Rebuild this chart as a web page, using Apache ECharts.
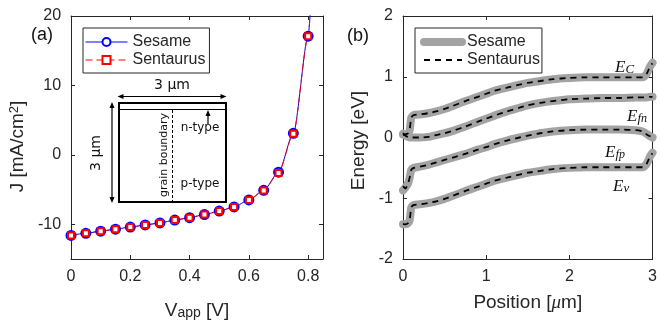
<!DOCTYPE html>
<html>
<head>
<meta charset="utf-8">
<title>Sesame vs Sentaurus</title>
<script src="https://cdn.jsdelivr.net/npm/echarts@6.0.0/dist/echarts.min.js"></script>
<style>
  html, body { margin: 0; padding: 0; background: #fff; }
  .fila { display: flex; width: 660px; height: 325px; }
  .panel { width: 330px; height: 325px; }
</style>
</head>
<body>
<div class="fila">
  <div id="panelA" class="panel"></div>
  <div id="panelB" class="panel"></div>
</div>
<script>
// ---- (a) curva J-V ----
const vApp = [0, 0.05, 0.1, 0.15, 0.2, 0.25, 0.3, 0.35, 0.4, 0.45, 0.5, 0.55, 0.6, 0.65, 0.7, 0.75, 0.8, 0.81];
const jSesame = [-11.6, -11.3, -11.0, -10.7, -10.4, -10.1, -9.8, -9.4, -9.05, -8.6, -8.1, -7.5, -6.5, -5.1, -2.5, 3.1, 17.1, 22.6];
const jSentaurus = [-11.6, -11.3, -11.0, -10.7, -10.4, -10.1, -9.8, -9.4, -9.05, -8.6, -8.1, -7.5, -6.5, -5.15, -2.6, 3.05, 17.1, 22.6];
const ticksV = [0, 0.2, 0.4, 0.6, 0.8];
const ticksJ = [-10, 0, 10, 20];

// ---- (b) diagrama de bandas ----
const posicion = [0, 0.03, 0.06, 0.08, 0.1, 0.13, 0.2, 0.3, 0.4, 0.5, 0.6, 0.75, 0.9, 1.0, 1.1, 1.25, 1.4, 1.5, 1.65, 1.8, 2.0, 2.2, 2.4, 2.6, 2.8, 2.88, 2.93, 2.97, 3.0];
const ecSesame = [0.05, 0.05, 0.07, 0.12, 0.33, 0.37, 0.38, 0.40, 0.43, 0.47, 0.52, 0.60, 0.67, 0.72, 0.77, 0.82, 0.87, 0.90, 0.93, 0.96, 0.98, 0.99, 0.99, 0.99, 0.99, 0.99, 1.05, 1.17, 1.23];
const efnSesame = [0.06, 0.03, 0.01, 0.0, 0.0, 0.0, 0.0, 0.01, 0.04, 0.07, 0.11, 0.18, 0.26, 0.31, 0.36, 0.43, 0.49, 0.53, 0.57, 0.60, 0.63, 0.64, 0.65, 0.65, 0.66, 0.66, 0.66, 0.67, 0.67];
const efpSesame = [-0.87, -0.82, -0.76, -0.66, -0.53, -0.50, -0.48, -0.45, -0.41, -0.37, -0.33, -0.27, -0.20, -0.16, -0.11, -0.05, 0.0, 0.03, 0.07, 0.10, 0.12, 0.13, 0.13, 0.13, 0.12, 0.10, 0.06, 0.02, 0.0];
const evSesame = [-1.43, -1.43, -1.41, -1.36, -1.15, -1.11, -1.10, -1.08, -1.05, -1.01, -0.96, -0.88, -0.81, -0.76, -0.71, -0.66, -0.61, -0.58, -0.55, -0.52, -0.50, -0.49, -0.49, -0.49, -0.49, -0.49, -0.43, -0.31, -0.25];
const ecSentaurus = [0.04, 0.05, 0.07, 0.13, 0.33, 0.37, 0.38, 0.40, 0.43, 0.47, 0.52, 0.60, 0.67, 0.72, 0.77, 0.82, 0.87, 0.90, 0.93, 0.96, 0.98, 0.99, 0.99, 0.99, 0.99, 0.99, 1.05, 1.17, 1.22];
const efnSentaurus = [0.07, 0.03, 0.01, 0.0, 0.0, 0.0, 0.0, 0.01, 0.04, 0.07, 0.11, 0.18, 0.26, 0.31, 0.36, 0.43, 0.49, 0.53, 0.57, 0.60, 0.63, 0.64, 0.65, 0.65, 0.66, 0.66, 0.66, 0.67, 0.67];
const efpSentaurus = [-0.80, -0.84, -0.76, -0.66, -0.53, -0.50, -0.48, -0.45, -0.41, -0.37, -0.33, -0.27, -0.20, -0.16, -0.11, -0.05, 0.0, 0.03, 0.07, 0.10, 0.12, 0.13, 0.13, 0.13, 0.12, 0.10, 0.05, 0.02, 0.0];
const evSentaurus = [-1.42, -1.43, -1.41, -1.36, -1.15, -1.11, -1.10, -1.08, -1.05, -1.01, -0.96, -0.88, -0.81, -0.76, -0.71, -0.66, -0.61, -0.58, -0.55, -0.52, -0.50, -0.49, -0.49, -0.49, -0.49, -0.49, -0.43, -0.31, -0.26];

const negro = '#262626';
const fuente = 'Liberation Sans';

// eje estilo MATLAB: caja completa, ticks hacia dentro
const ejeValor = (cfg) => ({
    type: 'value',
    min: cfg.min,
    max: cfg.max,
    interval: cfg.interval,
    position: cfg.position,
    axisLine: { show: true, onZero: false, lineStyle: { color: negro, width: 1 } },
    axisTick: { show: true, inside: true, length: 4, lineStyle: { color: negro }, customValues: cfg.ticks },
    axisLabel: { show: !!cfg.labels, color: negro, fontSize: 16, fontFamily: fuente, margin: 10, customValues: cfg.ticks },
    splitLine: { show: false },
    name: cfg.name,
    nameLocation: 'middle',
    nameGap: cfg.nameGap,
    nameRotate: cfg.nameRotate,
    nameTextStyle: cfg.nameTextStyle
});

const leyenda = (left, extra) => Object.assign({
    data: ['Sesame', 'Sentaurus'],
    orient: 'vertical',
    left: left,
    top: 28,
    itemHeight: 10,
    itemGap: 2,
    borderColor: negro,
    borderWidth: 1,
    borderRadius: 0,
    selectedMode: false,
    lineStyle: { width: 'inherit' },
    textStyle: { fontSize: 16, fontFamily: fuente, color: negro }
}, extra);

const punta = (x, y, dir) => {
    const p = {
        left: [[x, y], [x + 6, y - 2.5], [x + 6, y + 2.5]],
        right: [[x, y], [x - 6, y - 2.5], [x - 6, y + 2.5]],
        up: [[x, y], [x - 2.5, y + 6], [x + 2.5, y + 6]],
        down: [[x, y], [x - 2.5, y - 6], [x + 2.5, y - 6]]
    }[dir];
    return { type: 'polygon', shape: { points: p }, style: { fill: '#000' } };
};

const linea = (x1, y1, x2, y2, extra) => ({
    type: 'line',
    shape: { x1, y1, x2, y2 },
    style: Object.assign({ stroke: '#000', lineWidth: 1.2 }, extra)
});

const texto = (x, y, txt, size, rot) => ({
    type: 'text',
    x: x,
    y: y,
    rotation: rot || 0,
    style: { text: txt, fontSize: size, fontFamily: 'DejaVu Sans', fill: '#111', align: 'center', verticalAlign: 'middle' }
});

// ---------- panel (a) ----------
const graficoA = echarts.init(document.getElementById('panelA'));

const puntosJ = (arr) => vApp.map((v, i) => arr[i] > 20 ? { value: [v, arr[i]], symbol: 'none' } : [v, arr[i]]);

graficoA.setOption({
    animation: false,
    grid: { left: 70, right: 7, top: 16, bottom: 66 },
    legend: leyenda(83, { padding: [6, 4, 5, 2], itemWidth: 42 }),
    xAxis: [
        ejeValor({
            min: 0, max: 0.85, ticks: ticksV, labels: true, position: 'bottom',
            name: '{v|V}{s|app}{v| [V]}', nameGap: 25,
            nameTextStyle: {
                rich: {
                    v: { fontSize: 19, fontFamily: fuente, color: negro, lineHeight: 36, verticalAlign: 'bottom' },
                    s: { fontSize: 14, fontFamily: fuente, color: negro, lineHeight: 16, verticalAlign: 'bottom' }
                }
            }
        }),
        ejeValor({ min: 0, max: 0.85, ticks: ticksV, labels: false, position: 'top' })
    ],
    yAxis: [
        ejeValor({
            min: -15, max: 20, ticks: ticksJ, labels: true, position: 'left',
            name: '{t|J [mA/cm}{p|2}{t|]}', nameGap: 26, nameRotate: 90,
            nameTextStyle: {
                padding: [0, 18, 0, 0],
                rich: {
                    t: { fontSize: 19, fontFamily: fuente, color: negro, lineHeight: 24, verticalAlign: 'top' },
                    p: { fontSize: 13, fontFamily: fuente, color: negro, lineHeight: 14, verticalAlign: 'top' }
                }
            }
        }),
        ejeValor({ min: -15, max: 20, ticks: ticksJ, labels: false, position: 'right' })
    ],
    series: [
        {
            name: 'Sesame',
            type: 'line',
            data: puntosJ(jSesame),
            smooth: 0.25,
            smoothMonotone: 'x',
            symbol: 'emptyCircle',
            symbolSize: 9,
            clip: true,
            lineStyle: { color: '#0000ff', width: 1 },
            itemStyle: { color: '#0000ff', borderWidth: 1 }
        },
        {
            name: 'Sentaurus',
            type: 'line',
            data: puntosJ(jSentaurus),
            smooth: 0.25,
            smoothMonotone: 'x',
            symbol: 'emptyRect',
            symbolSize: 6,
            clip: true,
            lineStyle: { color: '#ff0000', width: 1, type: [7, 4] },
            itemStyle: { color: '#ff0000', borderWidth: 1 }
        }
    ],
    graphic: [
        { type: 'text', x: 31, y: 26, style: { text: '(a)', fontSize: 18, fontFamily: fuente, fill: '#111' } },
        // esquema del dispositivo
        { type: 'rect', shape: { x: 119, y: 103, width: 107, height: 99 }, style: { fill: '#fff', stroke: '#000', lineWidth: 2 } },
        linea(119, 109.5, 226, 109.5, { lineWidth: 1 }),
        linea(172.5, 110, 172.5, 202, { lineWidth: 1, lineDash: [3, 2] }),
        linea(122, 96.5, 222, 96.5),
        punta(117.5, 96.5, 'left'),
        punta(226.5, 96.5, 'right'),
        linea(112, 106, 112, 199),
        punta(112, 102, 'up'),
        punta(112, 203, 'down'),
        linea(208, 124, 208, 114),
        punta(208, 110, 'up'),
        texto(172, 85, '3 µm', 14),
        texto(96, 153, '3 µm', 14, Math.PI / 2),
        texto(164, 155, 'grain boundary', 11, Math.PI / 2),
        texto(200, 128, 'n-type', 12),
        texto(200, 184, 'p-type', 12)
    ]
});

// ---------- panel (b) ----------
const graficoB = echarts.init(document.getElementById('panelB'));

const bandasSesame = [ecSesame, efnSesame, efpSesame, evSesame];
const bandasSentaurus = [ecSentaurus, efnSentaurus, efpSentaurus, evSentaurus];
const serieBanda = (nombre, arr, estilo) => ({
    name: nombre,
    type: 'line',
    data: posicion.map((x, i) => [x, arr[i]]),
    smooth: 0.2,
    symbol: 'none',
    showSymbol: false,
    clip: true,
    lineStyle: estilo,
    itemStyle: { color: estilo.color }
});

// E con subindices (alineados abajo: menor lineHeight = mas bajo)
const etiquetaE = (x, y, sub1, sub2) => {
    const estilo = (size, lh) => ({ fontSize: size, fontFamily: 'Liberation Serif', fontStyle: 'italic', fill: '#111', lineHeight: lh, verticalAlign: 'bottom' });
    return {
        type: 'text',
        x: x,
        y: y,
        style: {
            text: '{e|E}{a|' + sub1 + '}' + (sub2 ? '{b|' + sub2 + '}' : ''),
            align: 'left',
            verticalAlign: 'top',
            rich: { e: estilo(17, 28), a: estilo(13, 18), b: estilo(12, 8) }
        }
    };
};

graficoB.setOption({
    animation: false,
    grid: { left: 73, right: 6, top: 16, bottom: 66 },
    legend: leyenda(85, { padding: [6, 2, 5, 5], itemWidth: 38, itemStyle: { opacity: 0 } }),
    xAxis: [
        ejeValor({
            min: 0, max: 3, interval: 1, labels: true, position: 'bottom',
            name: '{t|Position [}{m|μ}{t|m]}', nameGap: 34,
            nameTextStyle: {
                rich: {
                    t: { fontSize: 19, fontFamily: fuente, color: negro, lineHeight: 20 },
                    m: { fontSize: 19, fontFamily: 'Liberation Serif', fontStyle: 'italic', color: negro, lineHeight: 20 }
                }
            }
        }),
        ejeValor({ min: 0, max: 3, interval: 1, labels: false, position: 'top' })
    ],
    yAxis: [
        ejeValor({
            min: -2, max: 2, interval: 1, labels: true, position: 'left',
            name: 'Energy [eV]', nameGap: 32, nameRotate: 90,
            nameTextStyle: { fontSize: 19, fontFamily: fuente, color: negro, padding: [0, 6, 0, 0] }
        }),
        ejeValor({ min: -2, max: 2, interval: 1, labels: false, position: 'right' })
    ],
    series: [
        ...bandasSesame.map((b) => serieBanda('Sesame', b, { color: '#a3a3a3', width: 8, cap: 'round', join: 'round' })),
        ...bandasSentaurus.map((b) => serieBanda('Sentaurus', b, { color: '#000', width: 1.8, type: [6, 5] }))
    ],
    graphic: [
        { type: 'text', x: 17, y: 27, style: { text: '(b)', fontSize: 18, fontFamily: fuente, fill: '#111' } },
        etiquetaE(285, 48, 'C'),
        etiquetaE(297, 97, 'f', 'n'),
        etiquetaE(275, 133, 'f', 'p'),
        etiquetaE(283, 167, 'v')
    ]
});
</script>
</body>
</html>
